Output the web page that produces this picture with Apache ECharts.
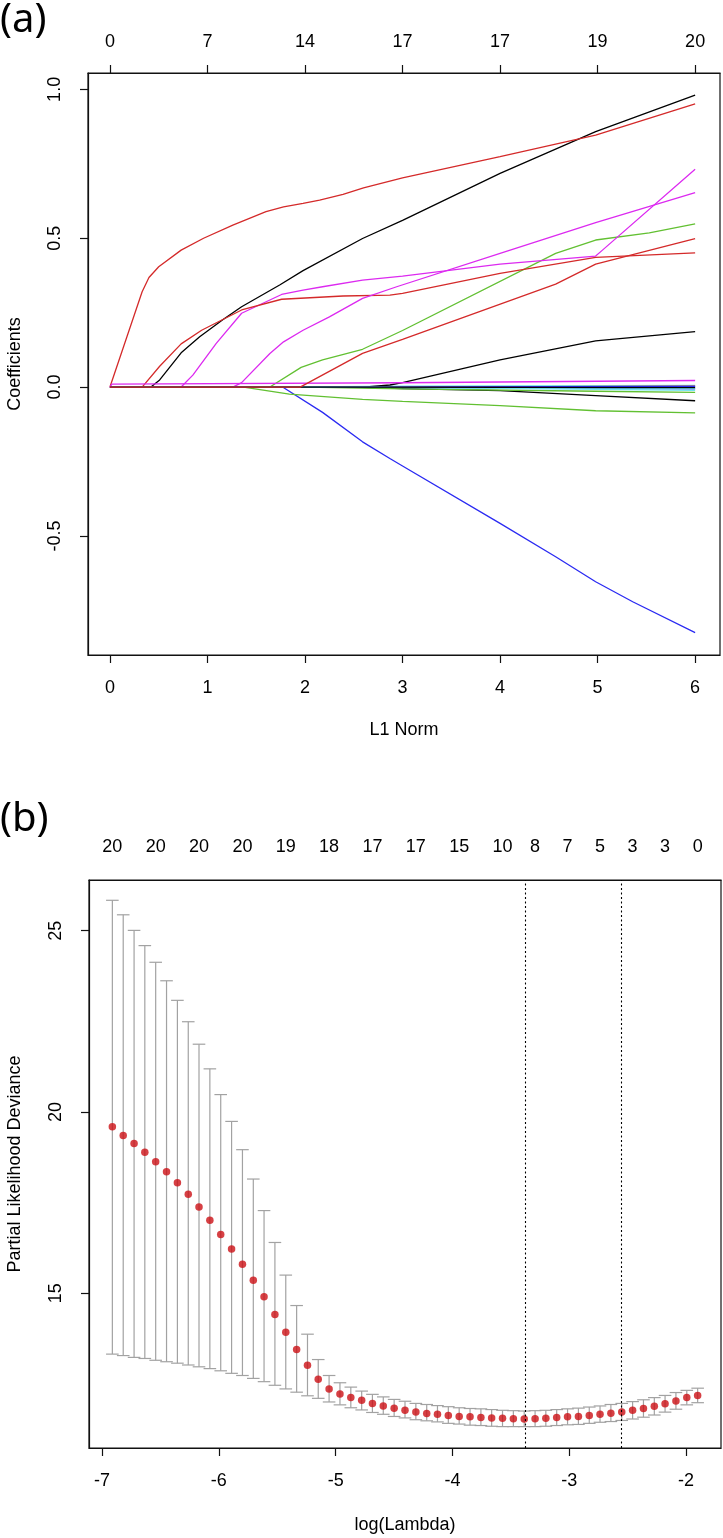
<!DOCTYPE html>
<html>
<head>
<meta charset="utf-8">
<script src="https://cdn.jsdelivr.net/npm/echarts@6/dist/echarts.min.js"></script>
<style>
html,body{margin:0;padding:0;background:#ffffff;}
#chart{width:723px;height:1538px;}
</style>
</head>
<body>
<div id="chart"></div>
<script>
// ---------------- Panel (a): coefficient paths vs L1 norm ----------------
const l1Ticks = [0, 1, 2, 3, 4, 5, 6];
const dfLabels = ['0', '7', '14', '17', '17', '19', '20'];
const coefTicks = [-0.5, 0.0, 0.5, 1.0];

// each path: [L1 norm, coefficient]
const pathB = [[0,0],[0.42,0],[0.51,0.024],[0.73,0.115],[0.92,0.169],[1.16,0.227],[1.35,0.27],[1.74,0.343],[1.98,0.391],[2.59,0.499],[3.0,0.56],[4.0,0.718],[4.98,0.858],[6.0,0.981]];
const pathA = [[0,0],[0.33,0.32],[0.40,0.368],[0.50,0.404],[0.73,0.46],[0.96,0.50],[1.26,0.544],[1.60,0.589],[1.78,0.605],[1.98,0.617],[2.15,0.628],[2.39,0.647],[2.60,0.669],[3.0,0.703],[4.0,0.774],[4.98,0.846],[6.0,0.951]];
const pathF = [[0,0],[1.64,0],[1.96,0.066],[2.18,0.091],[2.59,0.127],[3.0,0.19],[4.57,0.449],[4.98,0.494],[5.53,0.518],[6.0,0.548]];
const pathJ = [[0,0],[1.77,0],[2.18,-0.085],[2.59,-0.184],[2.87,-0.24],[3.0,-0.265],[4.0,-0.458],[4.57,-0.57],[4.98,-0.654],[5.36,-0.721],[6.0,-0.825]];
const pathC1 = [[0,0],[1.65,0],[3.0,0.003],[6.0,0.006]];
const pathD = [[0,0],[0.73,0],[0.85,0.04],[1.09,0.147],[1.35,0.248],[1.76,0.311],[1.98,0.326],[2.18,0.337],[2.59,0.359],[3.0,0.373],[4.0,0.413],[4.98,0.44],[5.05,0.46],[6.0,0.732]];
const pathH = [[0,0],[2.6,0],[2.87,0.007],[3.0,0.015],[4.0,0.091],[4.98,0.155],[6.0,0.186]];
const pathC = [[0,0],[0.33,0],[0.51,0.07],[0.73,0.145],[0.94,0.191],[1.35,0.259],[1.76,0.295],[2.39,0.306],[2.87,0.309],[3.0,0.315],[4.0,0.382],[4.98,0.436],[6.0,0.451]];
const pathK = [[0,0],[1.37,0],[1.84,-0.024],[2.59,-0.041],[3.0,-0.048],[4.0,-0.062],[4.98,-0.0795],[6.0,-0.087]];
const pathB2 = [[0,0],[2.0,0],[6.0,-0.006]];
const pathC2 = [[0,0],[1.9,0],[3.0,-0.002],[6.0,-0.004]];
const pathE = [[0,0],[1.26,0],[1.35,0.015],[1.64,0.113],[1.78,0.152],[1.98,0.191],[2.25,0.236],[2.59,0.298],[2.94,0.337],[4.0,0.449],[4.98,0.552],[6.0,0.653]];
const pathL = [[0,0],[2.5,0],[3.0,-0.005],[4.0,-0.012],[4.98,-0.029],[6.0,-0.046]];
const pathR4 = [[0,0],[2.9,0],[6.0,0.003]];
const pathM = [[0,0],[2.0,0],[3.0,-0.006],[4.98,-0.014],[6.0,-0.018]];
const pathB3 = [[0,0],[2.4,0],[6.0,0.002]];
const pathC3 = [[0,0],[2.6,0],[4.0,-0.004],[6.0,-0.011]];
const pathI = [[0,0],[0.02,0.01],[3.0,0.0145],[6.0,0.022]];
const pathO = [[0,0],[2.2,0],[6.0,-0.002]];
const pathG = [[0,0],[1.95,0],[2.59,0.113],[3.0,0.16],[4.57,0.346],[4.98,0.413],[6.0,0.499]];

// ---------------- Panel (b): cross-validation curve ----------------
const logLambda = [-6.912,-6.819,-6.726,-6.634,-6.541,-6.448,-6.355,-6.262,-6.170,-6.077,
  -5.984,-5.891,-5.798,-5.705,-5.613,-5.520,-5.427,-5.334,-5.241,-5.149,
  -5.056,-4.963,-4.870,-4.777,-4.685,-4.592,-4.499,-4.406,-4.313,-4.220,
  -4.128,-4.035,-3.942,-3.849,-3.756,-3.664,-3.571,-3.478,-3.385,-3.292,
  -3.200,-3.107,-3.014,-2.921,-2.828,-2.736,-2.643,-2.550,-2.457,-2.364,
  -2.271,-2.179,-2.086,-1.993,-1.900];
const cvm = [19.59,19.35,19.13,18.89,18.63,18.35,18.05,17.73,17.38,17.01,
  16.62,16.22,15.80,15.36,14.90,14.41,13.92,13.45,13.01,12.63,
  12.36,12.22,12.12,12.05,11.96,11.89,11.83,11.77,11.72,11.68,
  11.66,11.63,11.60,11.59,11.57,11.56,11.55,11.54,11.53,11.54,
  11.55,11.57,11.59,11.60,11.63,11.66,11.69,11.72,11.77,11.82,
  11.88,11.95,12.03,12.12,12.18];
const cvUpper = [25.84,25.44,25.01,24.59,24.13,23.62,23.08,22.49,21.87,21.19,
  20.48,19.74,18.96,18.15,17.28,16.40,15.50,14.66,13.87,13.17,
  12.73,12.53,12.41,12.30,12.21,12.14,12.07,12.02,11.96,11.93,
  11.90,11.87,11.84,11.82,11.81,11.79,11.77,11.76,11.75,11.76,
  11.77,11.79,11.81,11.83,11.86,11.89,11.93,11.96,12.01,12.06,
  12.12,12.18,12.26,12.32,12.38];
const cvLower = [13.32,13.28,13.23,13.20,13.15,13.11,13.07,13.02,12.97,12.92,
  12.86,12.79,12.73,12.65,12.56,12.46,12.36,12.27,12.17,12.10,
  12.00,11.92,11.84,11.78,11.71,11.66,11.60,11.56,11.51,11.48,
  11.45,11.41,11.39,11.36,11.35,11.33,11.32,11.32,11.32,11.32,
  11.33,11.35,11.37,11.38,11.41,11.44,11.46,11.49,11.53,11.58,
  11.64,11.72,11.80,11.92,11.98];
const nzIdx = [0,4,8,12,16,20,24,28,32,36,39,42,45,48,51,54];
const nzLabels = ['20','20','20','20','19','18','17','17','15','10','8','7','5','3','3','0'];
const lambdaMinLog = -3.385;
const lambda1seLog = -2.550;
const devTicks = [15, 20, 25];
const logTicks = [-7, -6, -5, -4, -3, -2];

// ---------------- build ----------------
const FONT = '"Liberation Sans", Arial, Helvetica, sans-serif';
const COL = {black:'#000000', red:'#D42A2A', green:'#62C032', blue:'#2B2BF2', cyan:'#6FE3EE', magenta:'#DC2AF0'};

const pathList = [
  [pathB,'black'],[pathA,'red'],[pathF,'green'],[pathJ,'blue'],[pathC1,'cyan'],[pathD,'magenta'],
  [pathH,'black'],[pathC,'red'],[pathK,'green'],[pathB2,'blue'],[pathC2,'cyan'],[pathE,'magenta'],
  [pathL,'black'],[pathR4,'red'],[pathM,'green'],[pathB3,'blue'],[pathC3,'cyan'],[pathI,'magenta'],
  [pathO,'black'],[pathG,'red']
];

const nzPos = nzIdx.map(i => logLambda[i]);

const tickLabelStyle = {color:'#000', fontSize:18, fontFamily:FONT};
const tickLine = {show:true, length:8, inside:false, lineStyle:{color:'#111', width:1.2}};
const axisLineStyle = {show:true, onZero:false, lineStyle:{color:'#111', width:1.2}};

function baseAxis(extra){
  return Object.assign({
    type:'value', splitLine:{show:false}, axisLine:axisLineStyle,
    nameTextStyle:{color:'#000', fontSize:18, fontFamily:FONT}
  }, extra);
}

const series = [];
pathList.forEach(([d, c], k) => {
  series.push({
    type:'line', xAxisIndex:0, yAxisIndex:0, data:d, showSymbol:false, symbol:'none',
    lineStyle:{color:COL[c], width:1.3}, silent:true, z:2+k*0.01, animation:false
  });
});

series.push({
  type:'custom', xAxisIndex:2, yAxisIndex:1,
  data: logLambda.map((x,i) => [x, cvLower[i], cvUpper[i]]),
  encode:{x:0, y:[1,2]},
  renderItem: function(params, api){
    const x = api.value(0);
    const lo = api.coord([x, api.value(1)]);
    const hi = api.coord([x, api.value(2)]);
    const hw = 6.3;
    const st = {stroke:'#A2A2A2', lineWidth:1.2};
    return {type:'group', children:[
      {type:'line', shape:{x1:lo[0], y1:lo[1], x2:hi[0], y2:hi[1]}, style:st},
      {type:'line', shape:{x1:lo[0]-hw, y1:lo[1], x2:lo[0]+hw, y2:lo[1]}, style:st},
      {type:'line', shape:{x1:hi[0]-hw, y1:hi[1], x2:hi[0]+hw, y2:hi[1]}, style:st}
    ]};
  },
  silent:true, animation:false, z:2
});

series.push({
  type:'scatter', xAxisIndex:2, yAxisIndex:1,
  data: logLambda.map((x,i) => [x, cvm[i]]),
  symbol:'circle', symbolSize:7.5,
  itemStyle:{color:'#CC1015'},
  silent:true, animation:false, z:3,
  markLine:{
    silent:true, symbol:['none','none'], animation:false,
    label:{show:false},
    lineStyle:{color:'#000', width:1.1, type:[2,2.5]},
    emphasis:{disabled:true},
    data:[{xAxis:lambdaMinLog},{xAxis:lambda1seLog}]
  }
});

const option = {
  backgroundColor:'#ffffff',
  animation:false,
  textStyle:{fontFamily:FONT},
  grid:[
    {left:88, top:73, width:632, height:582, show:true, borderColor:'#111', borderWidth:1.2, backgroundColor:'rgba(0,0,0,0)', outerBoundsMode:'none', containLabel:false},
    {left:89, top:880, width:632, height:568, show:true, borderColor:'#111', borderWidth:1.2, backgroundColor:'rgba(0,0,0,0)', outerBoundsMode:'none', containLabel:false}
  ],
  xAxis:[
    baseAxis({gridIndex:0, position:'bottom', min:-0.225, max:6.255,
      axisTick:Object.assign({customValues:l1Ticks}, tickLine),
      axisLabel:Object.assign({customValues:l1Ticks, margin:24, formatter:v => String(v)}, tickLabelStyle),
      name:'L1 Norm', nameLocation:'middle', nameGap:66}),
    baseAxis({gridIndex:0, position:'top', min:-0.225, max:6.255,
      axisTick:Object.assign({customValues:l1Ticks}, tickLine),
      axisLabel:Object.assign({customValues:l1Ticks, margin:22,
        formatter:v => dfLabels[l1Ticks.indexOf(Math.round(v))]}, tickLabelStyle)}),
    baseAxis({gridIndex:1, position:'bottom', min:-7.112, max:-1.700,
      axisTick:Object.assign({customValues:logTicks}, tickLine),
      axisLabel:Object.assign({customValues:logTicks, margin:24, formatter:v => String(v)}, tickLabelStyle),
      name:'log(Lambda)', nameLocation:'middle', nameGap:68}),
    baseAxis({gridIndex:1, position:'top', min:-7.112, max:-1.700,
      axisTick:{show:false},
      axisLabel:Object.assign({customValues:nzPos, margin:24,
        formatter:v => { const k = nzPos.findIndex(p => Math.abs(p - v) < 1e-6); return k >= 0 ? nzLabels[k] : ''; }}, tickLabelStyle)})
  ],
  yAxis:[
    baseAxis({gridIndex:0, position:'left', min:-0.900, max:1.055,
      axisTick:Object.assign({customValues:coefTicks}, tickLine),
      axisLabel:Object.assign({customValues:coefTicks, margin:24, rotate:90, formatter:v => v.toFixed(1)}, tickLabelStyle),
      name:'Coefficients', nameLocation:'middle', nameGap:64, nameRotate:90}),
    baseAxis({gridIndex:1, position:'left', min:10.73, max:26.40,
      axisTick:Object.assign({customValues:devTicks}, tickLine),
      axisLabel:Object.assign({customValues:devTicks, margin:24, rotate:90, formatter:v => String(v)}, tickLabelStyle),
      name:'Partial Likelihood Deviance', nameLocation:'middle', nameGap:65, nameRotate:90})
  ],
  graphic:[
    {type:'text', left:0, top:1, style:{text:'(a)', fill:'#000', font:'40px "Noto Sans", "Open Sans", sans-serif'}},
    {type:'text', left:0, top:800, style:{text:'(b)', fill:'#000', font:'40px "Noto Sans", "Open Sans", sans-serif'}}
  ],
  series: series
};

const chart = echarts.init(document.getElementById('chart'), null, {renderer:'canvas'});
chart.setOption(option);
</script>
</body>
</html>
